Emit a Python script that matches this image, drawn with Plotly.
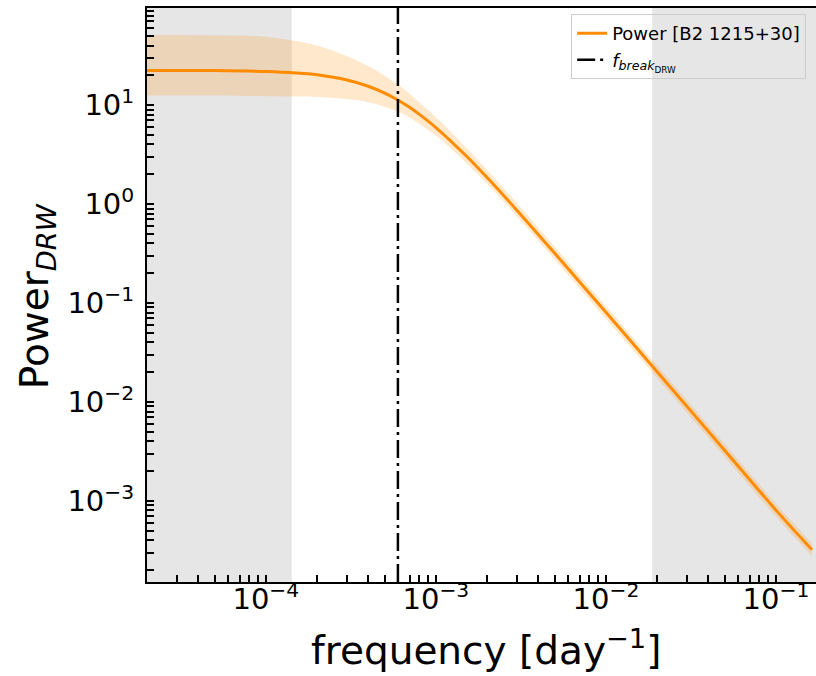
import numpy as np
import plotly.graph_objects as go

# ---- data ----
freq = [2e-5, 5e-5, 1e-4, 1.5e-4, 2e-4, 3e-4, 4e-4, 5e-4, 6e-4, 7e-4, 8e-4,
        1e-3, 1.5e-3, 2e-3, 3e-3, 5e-3, 1e-2, 2e-2, 5e-2, 1e-1, 1.63e-1]
power = [22.4, 22.3, 21.8, 21.1, 20.2, 17.9, 15.5, 13.2, 11.2, 9.5, 8.06,
         5.93, 3.09, 1.85, 0.862, 0.318, 0.0804, 0.0202, 0.00323, 0.000806, 0.000320]
power_hi = [51.1, 50.8, 49.1, 44.3, 40.0, 31.3, 24.8, 19.8, 16.0, 13.0, 10.6,
            7.53, 3.74, 2.21, 1.02, 0.370, 0.0933, 0.0234, 0.00375, 0.000935, 0.000371]
power_lo = [12.5, 12.5, 12.3, 12.2, 12.1, 11.5, 10.7, 9.64, 8.62, 7.5, 6.45,
            4.92, 2.63, 1.60, 0.750, 0.275, 0.0691, 0.0174, 0.00278, 0.000693, 0.000275]
f_break = 5.98e-4
low_limit = 1.42e-4
high_limit = 1.87e-2
x_major = [1e-4, 1e-3, 1e-2, 1e-1]
x_major_text = ["10<sup>−4</sup>", "10<sup>−3</sup>", "10<sup>−2</sup>", "10<sup>−1</sup>"]
y_major = [1e-3, 1e-2, 1e-1, 1e0, 1e1]
y_major_text = ["10<sup>−3</sup>", "10<sup>−2</sup>", "10<sup>−1</sup>", "10<sup>0</sup>", "10<sup>1</sup>"]
series_name = "Power [B2 1215+30]"
break_name = "<i>f</i><sub><i>break</i><sub>DRW</sub></sub>"

# ---- styling ----
ORANGE = "#ff8c00"
FONT = "DejaVu Sans"
DASHDOT = "18px,5px,3px,5px"

def tick_list(lo_exp, hi_exp, majors, major_text):
    vals, texts = [], []
    for e in range(lo_exp, hi_exp + 1):
        for k in range(1, 10):
            v = k * 10.0 ** e
            vals.append(v)
            lab = ""
            for m, t in zip(majors, major_text):
                if abs(v - m) / m < 1e-9:
                    lab = t
            texts.append(lab)
    return vals, texts

xt_v, xt_t = tick_list(-6, 0, x_major, x_major_text)
yt_v, yt_t = tick_list(-5, 2, y_major, y_major_text)

fig = go.Figure()
fig.add_trace(go.Scatter(x=freq, y=power_lo, mode="lines",
                         line=dict(width=0, shape="spline"),
                         showlegend=False, hoverinfo="skip"))
fig.add_trace(go.Scatter(x=freq, y=power_hi, mode="lines", fill="tonexty",
                         fillcolor="rgba(255,140,0,0.2)",
                         line=dict(width=0, shape="spline"),
                         showlegend=False, hoverinfo="skip"))
fig.add_trace(go.Scatter(x=freq, y=power, mode="lines", name=series_name,
                         line=dict(color=ORANGE, width=3, shape="spline")))
fig.add_trace(go.Scatter(x=[None], y=[None], mode="lines", name=break_name,
                         line=dict(color="black", width=2.5, dash=DASHDOT)))

# shaded regions
fig.add_shape(type="rect", xref="x", yref="paper", x0=1e-7, x1=low_limit, y0=0, y1=1,
              fillcolor="rgba(128,128,128,0.2)", line=dict(width=0), layer="below")
fig.add_shape(type="rect", xref="x", yref="paper", x0=high_limit, x1=10, y0=0, y1=1,
              fillcolor="rgba(128,128,128,0.2)", line=dict(width=0), layer="below")
# break frequency line
fig.add_shape(type="line", xref="x", yref="paper", x0=f_break, x1=f_break, y0=0, y1=1,
              line=dict(color="black", width=2.5, dash=DASHDOT), layer="above")

fig.update_layout(
    width=816, height=676,
    margin=dict(l=147, r=0, t=8, b=94),
    plot_bgcolor="white", paper_bgcolor="white",
    font=dict(family=FONT, color="black"),
    showlegend=True,
    legend=dict(x=0.634, y=0.9895, xanchor="left", yanchor="top",
                traceorder="normal",
                bgcolor="rgba(255,255,255,0)", bordercolor="#cccccc", borderwidth=1,
                font=dict(family=FONT, size=18, color="black")),
    annotations=[
        dict(text="frequency [day<sup>−1</sup>]", xref="paper", yref="paper",
             x=0.5067, y=-0.115, xanchor="center", yanchor="middle", showarrow=False,
             font=dict(family=FONT, size=39, color="black")),
        dict(text="Power<sub><i>DRW</i></sub>", xref="paper", yref="paper",
             x=-0.1644, y=0.498, xanchor="center", yanchor="middle", showarrow=False,
             textangle=-90, font=dict(family=FONT, size=39, color="black")),
    ],
)

fig.update_xaxes(type="log", range=[np.log10(2.0e-5), np.log10(0.172)],
                 showgrid=False, zeroline=False,
                 showline=True, linecolor="black", linewidth=2, mirror=True,
                 ticks="inside", ticklen=7, tickwidth=1.5, tickcolor="black",
                 tickmode="array", tickvals=xt_v, ticktext=xt_t,
                 ticklabelstandoff=-10,
                 tickfont=dict(family=FONT, size=29, color="black"))
fig.update_yaxes(type="log", range=[-3.82, 1.981],
                 showgrid=False, zeroline=False,
                 showline=True, linecolor="black", linewidth=2, mirror=False,
                 ticks="inside", ticklen=7, tickwidth=1.5, tickcolor="black",
                 tickmode="array", tickvals=yt_v, ticktext=yt_t,
                 ticklabelstandoff=5,
                 tickfont=dict(family=FONT, size=29, color="black"))

fig.write_html("out.html",
               config={"displayModeBar": False},
               post_script="document.body.style.margin='0px';"
                           "document.body.style.overflow='hidden';")
